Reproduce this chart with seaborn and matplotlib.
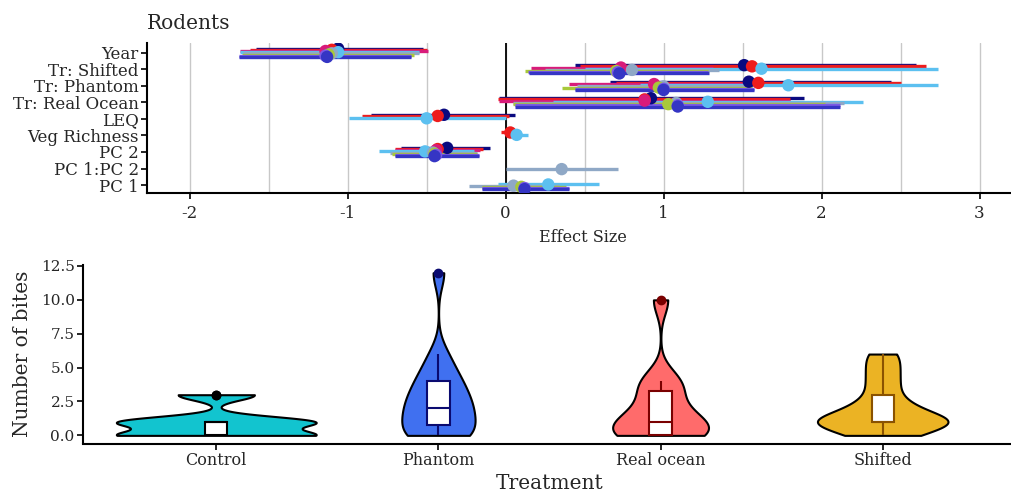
import numpy as np
import pandas as pd
import matplotlib
matplotlib.use("Agg")
import matplotlib.pyplot as plt
from matplotlib.ticker import MultipleLocator, FormatStrFormatter
import seaborn as sns

# ---------------- data: effect sizes (top panel) ----------------
terms = ["Year", "Tr: Shifted", "Tr: Phantom", "Tr: Real Ocean", "LEQ",
         "Veg Richness", "PC 2", "PC 1:PC 2", "PC 1"]
models = ["Model 1", "Model 2", "Model 3", "Model 4",
          "Model 5", "Model 6", "Model 7", "Model 8"]
model_colors = ["#0a0a80", "#ee1c1c", "#d81b7a", "#5cc0f0",
                "#8fa8c6", "#a8c83a", "#7b5ae6", "#3535c4"]

est_term = (["Year"] * 8 + ["Tr: Shifted"] * 8 + ["Tr: Phantom"] * 8 +
            ["Tr: Real Ocean"] * 8 + ["LEQ"] * 3 + ["Veg Richness"] * 2 +
            ["PC 2"] * 8 + ["PC 1:PC 2"] + ["PC 1"] * 5)
est_model = (models + models + models + models +
             ["Model 1", "Model 2", "Model 4"] + ["Model 2", "Model 4"] +
             models + ["Model 5"] +
             ["Model 5", "Model 4", "Model 6", "Model 7", "Model 8"])
est_value = [-1.06, -1.10, -1.14, -1.06, -1.10, -1.12, -1.14, -1.13,
             1.51, 1.56, 0.73, 1.62, 0.80, 0.70, 0.71, 0.72,
             1.54, 1.60, 0.94, 1.79, 1.00, 0.97, 1.00, 1.00,
             0.92, 0.88, 0.88, 1.28, 1.08, 1.03, 1.09, 1.09,
             -0.39, -0.43, -0.50,
             0.03, 0.07,
             -0.37, -0.43, -0.44, -0.51, -0.46, -0.45, -0.44, -0.45,
             0.355,
             0.05, 0.27, 0.10, 0.12, 0.12]
est_low = [-1.58, -1.62, -1.68, -1.68, -1.66, -1.67, -1.69, -1.69,
           0.44, 0.47, 0.16, 0.50, 0.25, 0.12, 0.14, 0.15,
           0.66, 0.70, 0.40, 0.85, 0.45, 0.36, 0.44, 0.44,
           -0.04, -0.05, -0.04, 0.30, 0.05, 0.05, 0.06, 0.06,
           -0.85, -0.91, -0.99,
           -0.03, 0.00,
           -0.66, -0.70, -0.70, -0.80, -0.73, -0.72, -0.70, -0.70,
           0.00,
           -0.23, -0.05, -0.15, -0.15, -0.15]
est_high = [-0.52, -0.50, -0.49, -0.55, -0.55, -0.58, -0.60, -0.60,
            2.60, 2.66, 1.31, 2.74, 1.35, 1.28, 1.28, 1.29,
            2.44, 2.50, 1.50, 2.74, 1.56, 1.56, 1.57, 1.57,
            1.89, 1.80, 1.80, 2.26, 2.14, 2.02, 2.12, 2.12,
            0.06, 0.02, 0.00,
            0.09, 0.14,
            -0.10, -0.14, -0.16, -0.20, -0.18, -0.18, -0.17, -0.17,
            0.71,
            0.34, 0.59, 0.38, 0.40, 0.40]

# ---------------- data: bites (bottom panel) ----------------
treatments = ["Control", "Phantom", "Real ocean", "Shifted"]
bites_control = [0, 0, 0, 0, 0, 1, 1, 1, 1, 1, 3, 3]
bites_phantom = [0, 0, 0, 0, 1, 1, 2, 2, 2, 3, 3, 4, 4, 5, 6, 12]
bites_real_ocean = [0, 0, 0, 0, 1, 1, 1, 2, 3, 4, 4, 10]
bites_shifted = [0, 0, 1, 1, 1, 1, 1, 2, 2, 3, 4, 5, 6]
violin_colors = ["#12c4cf", "#4070f0", "#ff6b6b", "#ebb324"]
box_edge_colors = ["#000000", "#0a0a70", "#7a0000", "#8a5200"]

# ---------------- style ----------------
sns.set_theme(style="white")
plt.rcParams["font.family"] = ["DejaVu Serif"]
plt.rcParams["axes.edgecolor"] = "black"

fig = plt.figure(figsize=(10.12, 4.92), dpi=100)
W, H = 1012.0, 492.0

# ---------------- top panel ----------------
ax1 = fig.add_axes([147 / W, 1 - 193 / H, (1019 - 147) / W, 150 / H])
df = pd.DataFrame({"term": est_term, "model": est_model, "est": est_value,
                   "lo": est_low, "hi": est_high})
term_pos = {t: len(terms) - 1 - i for i, t in enumerate(terms)}
n_m = len(models)
model_off = {m: 0.25 - i * (0.5 / (n_m - 1)) for i, m in enumerate(models)}
df["ypos"] = df["term"].map(term_pos) + df["model"].map(model_off)
pal = dict(zip(models, model_colors))

ax1.set_xlim(-2.27, 3.25)
ax1.set_ylim(-0.48, 8.59)
ax1.xaxis.set_major_locator(MultipleLocator(1))
ax1.xaxis.set_minor_locator(MultipleLocator(0.5))
ax1.grid(axis="x", which="both", color="#c8c8c8", lw=1.0, zorder=0)
ax1.grid(axis="y", visible=False)
ax1.axvline(0, color="black", lw=1.3, zorder=1)

for m in models:
    sub = df[df["model"] == m]
    ax1.hlines(sub["ypos"], sub["lo"], sub["hi"], colors=pal[m], lw=2.4, zorder=2)
sns.scatterplot(data=df, x="est", y="ypos", hue="model", palette=pal,
                hue_order=models, s=80, edgecolor="none", legend=False,
                ax=ax1, zorder=3)

ax1.set_yticks([term_pos[t] for t in terms])
ax1.set_yticklabels(terms, fontsize=12)
ax1.set_xticks([-2, -1, 0, 1, 2, 3])
ax1.set_xticklabels(["-2", "-1", "0", "1", "2", "3"], fontsize=12)
ax1.tick_params(axis="y", which="major", left=True, length=4, width=1.2,
                color="black", pad=2)
ax1.tick_params(axis="x", which="major", bottom=True, length=4, width=1.2,
                color="black", pad=5)
ax1.tick_params(axis="x", which="minor", length=0)
ax1.set_xlabel("Effect Size", fontsize=11.5, labelpad=5)
ax1.set_ylabel("")
ax1.set_title("Rodents", loc="left", fontsize=14.5, pad=10)
sns.despine(ax=ax1)
for s in ["left", "bottom"]:
    ax1.spines[s].set_linewidth(1.5)

# ---------------- bottom panel ----------------
ax2 = fig.add_axes([83 / W, 1 - 443.5 / H, (1016 - 83) / W, (443.5 - 264.6) / H])
bdf = pd.DataFrame({
    "treatment": (["Control"] * len(bites_control) + ["Phantom"] * len(bites_phantom) +
                  ["Real ocean"] * len(bites_real_ocean) + ["Shifted"] * len(bites_shifted)),
    "bites": bites_control + bites_phantom + bites_real_ocean + bites_shifted,
})
sns.violinplot(data=bdf, x="treatment", y="bites", hue="treatment",
               order=treatments, hue_order=treatments,
               palette=dict(zip(treatments, violin_colors)), saturation=1,
               inner=None, cut=0, density_norm="area", common_norm=True,
               width=0.9, bw_adjust=0.6, linewidth=1.5, linecolor="black",
               legend=False, dodge=False, ax=ax2)
for t, ec in zip(treatments, box_edge_colors):
    sns.boxplot(data=bdf[bdf["treatment"] == t], x="treatment", y="bites",
                order=treatments, width=0.1, color="white", saturation=1,
                linecolor=ec, linewidth=1.5, showcaps=False, fliersize=6,
                flierprops=dict(marker="o", markerfacecolor=ec, markeredgecolor=ec),
                ax=ax2)

ax2.set_xlim(-0.6, 3.6)
ax2.set_ylim(-0.6, 12.6)
ax2.set_yticks([0, 2.5, 5, 7.5, 10, 12.5])
ax2.yaxis.set_major_formatter(FormatStrFormatter("%.1f"))
ax2.tick_params(axis="y", labelsize=11)
ax2.tick_params(axis="x", labelsize=11.5)
ax2.tick_params(axis="both", bottom=True, left=True, length=4, width=1.2,
                color="black", pad=2)
ax2.set_xlabel("Treatment", fontsize=14.5, labelpad=4)
ax2.set_ylabel("Number of bites", fontsize=14.5, labelpad=6)
sns.despine(ax=ax2)
for s in ["left", "bottom"]:
    ax2.spines[s].set_linewidth(1.5)

fig.savefig("out.png", dpi=100)
